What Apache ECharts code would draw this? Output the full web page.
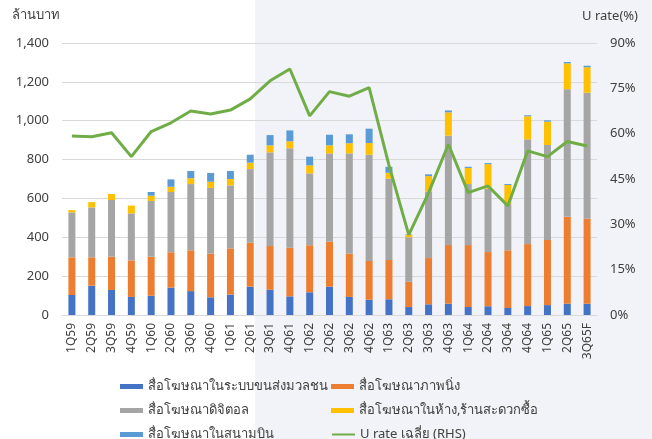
<!DOCTYPE html>
<html>
  <head>
    <meta charset="utf-8" />
    <script src="https://cdn.jsdelivr.net/npm/echarts@6.0.0/dist/echarts.min.js"></script>
    <style>
      html, body { margin: 0; padding: 0; background: #fff; }
    </style>
  </head>
  <body>
    <div id="main" style="width: 652px; height: 439px"></div>

    <script type="text/javascript">
      // quarters (Thai Buddhist year, short)
      var quarters = ["1Q59", "2Q59", "3Q59", "4Q59", "1Q60", "2Q60", "3Q60", "4Q60",
        "1Q61", "2Q61", "3Q61", "4Q61", "1Q62", "2Q62", "3Q62", "4Q62",
        "1Q63", "2Q63", "3Q63", "4Q63", "1Q64", "2Q64", "3Q64", "4Q64",
        "1Q65", "2Q65", "3Q65F"];

      // million baht
      var transit = [103, 151, 129, 93, 99, 141, 123, 91, 105, 146, 130, 96, 117, 146, 93, 79,
        81, 41, 55, 58, 41, 45, 36, 46, 51, 58, 58];
      var staticAds = [194, 146, 171, 188, 201, 182, 210, 225, 238, 226, 225, 250, 242, 231, 223, 199,
        202, 130, 238, 302, 319, 279, 297, 319, 335, 448, 438];
      var digital = [231, 257, 292, 242, 287, 310, 341, 338, 324, 379, 482, 512, 370, 455, 516, 547,
        419, 229, 342, 563, 314, 326, 238, 539, 489, 656, 648];
      var inStore = [12, 27, 31, 40, 27, 27, 30, 32, 33, 33, 36, 36, 41, 41, 52, 60,
        30, 14, 80, 120, 83, 126, 98, 119, 120, 133, 131];
      var airport = [0, 0, 0, 0, 19, 38, 37, 45, 41, 41, 53, 56, 45, 55, 46, 74,
        31, 2, 9, 10, 6, 6, 5, 5, 7, 7, 8];

      // average utilisation rate, %
      var uRate = [59.2, 59.0, 60.3, 52.4, 60.7, 63.6, 67.5, 66.5, 67.8, 71.5, 77.5, 81.4,
        65.9, 73.9, 72.4, 75.2, 49.6, 26.5, 40.4, 56.5, 40.5, 42.7, 36.1, 54.3,
        52.4, 57.4, 55.9];

      var leftTicks = [0, 1400, 200];
      var rightTicks = [0, 90, 15];

      var names = ["สื่อโฆษณาในระบบขนส่งมวลชน", "สื่อโฆษณาภาพนิ่ง", "สื่อโฆษณาดิจิตอล",
        "สื่อโฆษณาในห้าง,ร้านสะดวกซื้อ", "สื่อโฆษณาในสนามบิน", "U rate เฉลี่ย (RHS)"];
      var colors = ["#4472c4", "#ed7d31", "#a5a5a5", "#ffc000", "#5b9bd5", "#70ad47"];

      var font = "'Noto Sans', 'DejaVu Sans', sans-serif";
      var txt = "#404040";

      var myChart = echarts.init(document.getElementById("main"));

      function bar(i, data) {
        return {
          name: names[i],
          type: "bar",
          stack: "ads",
          barWidth: 7,
          itemStyle: { color: colors[i] },
          data: data,
        };
      }

      // one legend per item so the 2-column grid lines up like the original
      var legendCols = [120, 331];
      var legendRows = [380, 404, 428];
      var legends = names.map(function (n, i) {
        var item = i === 5
          ? { name: n, itemStyle: { opacity: 0 }, lineStyle: { width: 2 } }
          : { name: n, icon: "rect" };
        return {
          left: legendCols[i % 2],
          top: legendRows[Math.floor(i / 2)],
          itemWidth: 23,
          itemHeight: 5,
          padding: 0,
          textStyle: { fontFamily: font, fontSize: 13, color: txt },
          data: [item],
        };
      });

      var option = {
        animation: false,
        color: colors,
        textStyle: { fontFamily: font },
        graphic: [
          {
            type: "rect",
            z: -10,
            silent: true,
            shape: { x: 255, y: 0, width: 397, height: 439 },
            style: { fill: "#f2f3f8" },
          },
          {
            type: "text",
            left: 12,
            top: 9,
            style: { text: "ล้านบาท", fontFamily: font, fontSize: 13, fill: txt },
          },
          {
            type: "text",
            right: 14,
            top: 10,
            style: { text: "U rate(%)", fontFamily: font, fontSize: 13, fill: txt },
          },
        ],
        legend: legends,
        grid: { left: 62, right: 55, top: 43, bottom: 124 },
        xAxis: {
          type: "category",
          data: quarters,
          axisTick: { show: false },
          axisLine: { lineStyle: { color: "#d9d9d9" } },
          axisLabel: { rotate: 90, fontSize: 12, color: txt, margin: 8, interval: 0 },
        },
        yAxis: [
          {
            type: "value",
            min: leftTicks[0],
            max: leftTicks[1],
            interval: leftTicks[2],
            splitLine: { lineStyle: { color: "#d9d9d9" } },
            axisLabel: {
              fontSize: 13,
              color: txt,
              margin: 13,
              formatter: function (v) { return v.toLocaleString("en-US"); },
            },
          },
          {
            type: "value",
            min: rightTicks[0],
            max: rightTicks[1],
            interval: rightTicks[2],
            splitLine: { show: false },
            axisLabel: { fontSize: 13, color: txt, margin: 13, formatter: "{value}%" },
          },
        ],
        series: [
          bar(0, transit),
          bar(1, staticAds),
          bar(2, digital),
          bar(3, inStore),
          bar(4, airport),
          {
            name: names[5],
            type: "line",
            yAxisIndex: 1,
            symbol: "none",
            z: 5,
            lineStyle: { color: colors[5], width: 3 },
            itemStyle: { color: colors[5] },
            data: uRate,
          },
        ],
      };

      myChart.setOption(option);
    </script>
  </body>
</html>
